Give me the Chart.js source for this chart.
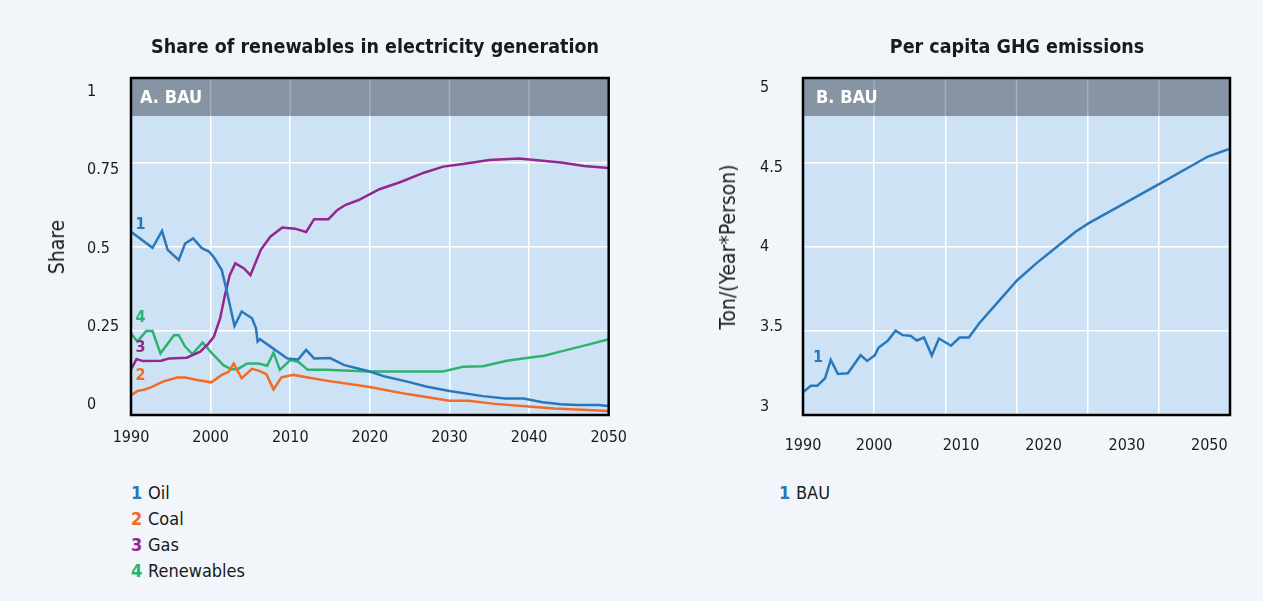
<!DOCTYPE html>
<html>
<head>
<meta charset="utf-8">
<script src="https://cdn.jsdelivr.net/npm/chart.js@4.4.1/dist/chart.umd.min.js"></script>
<style>
  body { margin: 0; background: #f2f6fa; width: 1263px; height: 601px; position: relative; overflow: hidden;
         font-family: "DejaVu Sans Condensed", "Liberation Sans", sans-serif; color: #1a1a1a; }
  canvas { position: absolute; top: 0; }
  #shareChart { left: 0; }
  #ghgChart { left: 640px; }
  .txt { position: absolute; white-space: nowrap; }
  .title { font-weight: bold; font-size: 19.5px; top: 46px; transform: translate(-50%, -50%); }
  .ytitle { font-size: 21px; transform: translate(-50%, -50%) rotate(-90deg); }
  .legend { font-size: 18px; line-height: 26px; }
  .legend b { display: inline-block; width: 17px; }
</style>
</head>
<body>
<canvas id="shareChart" width="640" height="470"></canvas>
<canvas id="ghgChart" width="623" height="470"></canvas>

<div class="txt title" style="left:375px">Share of renewables in electricity generation</div>
<div class="txt title" style="left:1017px">Per capita GHG emissions</div>
<div class="txt ytitle" style="left:57px; top:247px">Share</div>
<div class="txt ytitle" style="left:728px; top:247px">Ton/(Year*Person)</div>

<div class="txt legend" style="left:131px; top:480px">
  <div><b style="color:#2878be">1</b>Oil</div>
  <div><b style="color:#f26a24">2</b>Coal</div>
  <div><b style="color:#92278f">3</b>Gas</div>
  <div><b style="color:#2db370">4</b>Renewables</div>
</div>
<div class="txt legend" style="left:779px; top:480px">
  <div><b style="color:#2878be">1</b>BAU</div>
</div>

<script>
// --- data ---
const oilYears = [1990, 1992.7, 1993.9, 1994.6, 1996, 1996.8, 1997.8, 1998.9, 1999.8, 2000.5, 2001.4, 2002, 2003,
  2003.9, 2005.2, 2005.7, 2005.9, 2006.2, 2009.6, 2011, 2012, 2013, 2015, 2016.8, 2018, 2020, 2021.9, 2024.7,
  2027.2, 2030, 2034.2, 2037, 2039.3, 2041.7, 2044, 2046, 2048.7, 2050]
const oilShare = [0.544, 0.496, 0.546, 0.49, 0.46, 0.509, 0.524, 0.495, 0.485, 0.465, 0.43, 0.371, 0.264,
  0.307, 0.287, 0.257, 0.218, 0.225, 0.168, 0.165, 0.193, 0.168, 0.169, 0.148, 0.141, 0.129, 0.114, 0.099,
  0.084, 0.071, 0.056, 0.049, 0.049, 0.038, 0.032, 0.030, 0.030, 0.027]

const coalYears = [1990, 1990.9, 1991.5, 1992.5, 1994, 1995.8, 1996.8, 1998.3, 2000.1, 2001.4, 2002.3, 2002.9,
  2003.9, 2005.2, 2006.1, 2007, 2007.9, 2008.9, 2010.4, 2012.2, 2014.5, 2019.8, 2024.7, 2030, 2032.4, 2035.7,
  2039.9, 2043.2, 2050]
const coalShare = [0.059, 0.072, 0.074, 0.082, 0.099, 0.111, 0.111, 0.104, 0.097, 0.119, 0.129, 0.153,
  0.109, 0.137, 0.131, 0.121, 0.076, 0.112, 0.119, 0.111, 0.102, 0.084, 0.062, 0.042, 0.042, 0.033,
  0.025, 0.019, 0.012]

const gasYears = [1990, 1990.7, 1991.5, 1993.8, 1994.8, 1997, 1998.7, 1999.7, 2000.4, 2001.2, 2001.8, 2002.4,
  2003.1, 2004.2, 2005, 2006.3, 2007.5, 2009, 2010.6, 2012, 2013, 2014.8, 2015.9, 2016.9, 2018.6, 2021.2,
  2023.7, 2026.8, 2029.2, 2031.7, 2035, 2038.7, 2040.7, 2044, 2046.9, 2050]
const gasShare = [0.135, 0.166, 0.160, 0.161, 0.168, 0.170, 0.188, 0.211, 0.232, 0.287, 0.356, 0.415,
  0.450, 0.435, 0.415, 0.49, 0.529, 0.556, 0.553, 0.543, 0.581, 0.581, 0.608, 0.623, 0.638, 0.670,
  0.690, 0.719, 0.737, 0.745, 0.757, 0.761, 0.757, 0.749, 0.739, 0.733]

const renewYears = [1990, 1990.8, 1991.9, 1992.7, 1993.7, 1995.4, 1996, 1996.8, 1997.7, 1999, 2000.1, 2001.6,
  2002.6, 2003.4, 2004.6, 2006, 2007.1, 2007.9, 2008.7, 2010, 2011, 2012.2, 2014.5, 2019.8, 2029.2, 2031.7,
  2034.2, 2037.2, 2039.9, 2041.9, 2044.4, 2047.3, 2050]
const renewShare = [0.242, 0.218, 0.249, 0.249, 0.183, 0.237, 0.237, 0.203, 0.181, 0.215, 0.185, 0.148,
  0.136, 0.136, 0.153, 0.153, 0.146, 0.185, 0.134, 0.163, 0.158, 0.134, 0.134, 0.129, 0.129, 0.143,
  0.145, 0.161, 0.170, 0.176, 0.191, 0.208, 0.225]

const ghgYears = [1990, 1991.1, 1992, 1993.1, 1993.9, 1994.9, 1996.3, 1998.1, 1999, 2000.1, 2000.6, 2001.9,
  2003, 2004, 2005.1, 2006, 2007, 2008.1, 2009.1, 2010.8, 2012, 2013.3, 2014.8, 2017.6, 2020.1, 2022.7,
  2025.2, 2028.3, 2030.1, 2039.9, 2046.9, 2050]
const ghgPerCapita = [3.135, 3.173, 3.173, 3.218, 3.327, 3.244, 3.248, 3.355, 3.321, 3.355, 3.399, 3.44,
  3.5, 3.474, 3.47, 3.442, 3.46, 3.353, 3.454, 3.411, 3.46, 3.46, 3.546, 3.68, 3.80, 3.897,
  3.982, 4.088, 4.137, 4.367, 4.534, 4.58]

// tick labels
const shareTicks = [0, 0.25, 0.5, 0.75, 1]
const ghgTicks = [3, 3.5, 4, 4.5, 5]
const ghgTickAt = [1990, 2000, 2012.2, 2023.8, 2035.5, 2047.1]
const ghgTickLabels = ['1990', '2000', '2010', '2020', '2030', '2050']

const FONT = '"DejaVu Sans Condensed", "Liberation Sans", sans-serif'
const TICK_FONT = { family: FONT, size: 16 }

const pts = (xs, ys) => xs.map((x, i) => ({ x, y: ys[i] }))

const line = (label, xs, ys, color, tag) => ({
  label, data: pts(xs, ys), borderColor: color, backgroundColor: color,
  borderWidth: 2.5, pointRadius: 0, tension: 0, tag
})

// plot background, grey header band, series numbers, frame
const panelPlugin = {
  id: 'panel',
  beforeDraw(chart) {
    const { ctx, chartArea: a } = chart
    ctx.save()
    ctx.fillStyle = '#cde3f5'
    ctx.fillRect(a.left, a.top, a.width, a.height)
    ctx.restore()
  },
  beforeDatasetsDraw(chart, args, opts) {
    const { ctx, chartArea: a } = chart
    const x = chart.scales.x
    ctx.save()
    ctx.fillStyle = '#8694a4'
    ctx.fillRect(a.left, a.top, a.width, 38)
    ctx.strokeStyle = 'rgba(255,255,255,0.25)'
    ctx.lineWidth = 1.5
    x.ticks.forEach(t => {
      const px = x.getPixelForValue(t.value)
      ctx.beginPath()
      ctx.moveTo(px, a.top)
      ctx.lineTo(px, a.top + 38)
      ctx.stroke()
    })
    ctx.fillStyle = '#fff'
    ctx.font = 'bold 18px ' + FONT
    ctx.textBaseline = 'middle'
    ctx.fillText(opts.label, a.left + opts.inset, a.top + 20)
    ctx.restore()
  },
  afterDraw(chart) {
    const { ctx, chartArea: a } = chart
    const x = chart.scales.x, y = chart.scales.y
    ctx.save()
    ctx.font = 'bold 16px ' + FONT
    ctx.textAlign = 'center'
    ctx.textBaseline = 'middle'
    chart.data.datasets.forEach(ds => {
      if (!ds.tag) return
      ctx.fillStyle = ds.borderColor
      ctx.fillText(ds.tag.text, x.getPixelForValue(ds.tag.x), y.getPixelForValue(ds.tag.y))
    })
    ctx.strokeStyle = '#000'
    ctx.lineWidth = 2.5
    ctx.strokeRect(a.left, a.top, a.width, a.height)
    ctx.restore()
  }
}

const gridX = { color: '#fff', lineWidth: 1.5, drawTicks: false }

new Chart(document.getElementById('shareChart'), {
  type: 'line',
  data: {
    datasets: [
      line('Oil', oilYears, oilShare, '#2878be', { text: '1', x: 1991.2, y: 0.564 }),
      line('Coal', coalYears, coalShare, '#f26a24', { text: '2', x: 1991.2, y: 0.116 }),
      line('Gas', gasYears, gasShare, '#92278f', { text: '3', x: 1991.2, y: 0.198 }),
      line('Renewables', renewYears, renewShare, '#2db370', { text: '4', x: 1991.2, y: 0.287 })
    ]
  },
  options: {
    responsive: false,
    animation: false,
    layout: { padding: { left: 87, top: 78, right: 21, bottom: 15 } },
    plugins: { legend: { display: false }, tooltip: { enabled: false }, panel: { label: 'A. BAU', inset: 9 } },
    scales: {
      x: {
        type: 'linear', min: 1990, max: 2050,
        grid: gridX, border: { display: false },
        ticks: { stepSize: 10, callback: v => String(v), font: TICK_FONT, color: '#1a1a1a', padding: 13, maxRotation: 0 },
        afterFit: s => { s.height = 40 }
      },
      y: {
        min: 0, max: 1,
        grid: gridX, border: { display: false },
        ticks: { stepSize: 0.25, display: false },
        afterFit: s => { s.width = 0 }
      },
      yl: {
        position: 'left', min: -0.032, max: 1.045,
        grid: { display: false }, border: { display: false },
        afterBuildTicks: s => { s.ticks = shareTicks.map(v => ({ value: v })) },
        ticks: { callback: v => String(v), font: TICK_FONT, color: '#1a1a1a', crossAlign: 'far' },
        afterFit: s => { s.width = 44 }
      }
    }
  },
  plugins: [panelPlugin]
})

new Chart(document.getElementById('ghgChart'), {
  type: 'line',
  data: {
    datasets: [
      line('BAU', ghgYears, ghgPerCapita, '#2878be', { text: '1', x: 1992.1, y: 3.341 })
    ]
  },
  options: {
    responsive: false,
    animation: false,
    layout: { padding: { left: 120, top: 78, right: 33, bottom: 15 } },
    plugins: { legend: { display: false }, tooltip: { enabled: false }, panel: { label: 'B. BAU', inset: 13 } },
    scales: {
      x: {
        type: 'linear', min: 1990, max: 2050,
        grid: gridX, border: { display: false },
        ticks: { stepSize: 10, display: false },
        afterFit: s => { s.height = 0 }
      },
      xl: {
        type: 'linear', position: 'bottom', min: 1990, max: 2050,
        grid: { display: false }, border: { display: false },
        afterBuildTicks: s => { s.ticks = ghgTickAt.map(v => ({ value: v })) },
        ticks: { autoSkip: false, callback: (v, i) => ghgTickLabels[i], font: TICK_FONT, color: '#1a1a1a', padding: 13, maxRotation: 0 },
        afterFit: s => { s.height = 40 }
      },
      y: {
        min: 3, max: 5,
        grid: gridX, border: { display: false },
        ticks: { stepSize: 0.5, display: false },
        afterFit: s => { s.width = 0 }
      },
      yl: {
        position: 'left', min: 2.947, max: 5.063,
        grid: { display: false }, border: { display: false },
        afterBuildTicks: s => { s.ticks = ghgTicks.map(v => ({ value: v })) },
        ticks: { callback: v => String(v), font: TICK_FONT, color: '#1a1a1a', crossAlign: 'far' },
        afterFit: s => { s.width = 43 }
      }
    }
  },
  plugins: [panelPlugin]
})
</script>
</body>
</html>
